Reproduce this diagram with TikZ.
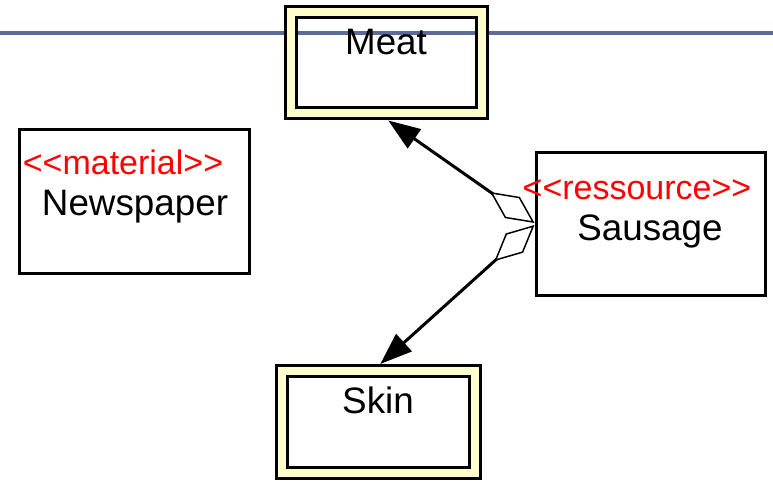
\documentclass[tikz,border=0pt]{standalone}
\usepackage{fontspec}
\setmainfont{Liberation Sans}
\usetikzlibrary{arrows.meta}
\definecolor{rulebar}{RGB}{94,106,156}
\definecolor{partfill}{RGB}{255,255,204}
\definecolor{stereored}{RGB}{255,0,0}

\begin{document}
\begin{tikzpicture}[x=1pt, y=-1pt,
    cls/.style={draw, line width=3pt, inner sep=0pt},
    part/.style={draw, line width=3pt, double=partfill, double distance=8pt, inner sep=0pt, outer sep=7pt},
    clsname/.style={anchor=base, inner sep=0pt, font=\fontsize{36.8}{44}\selectfont},
    stereo/.style={anchor=base, inner sep=0pt, text=stereored, font=\fontsize{34}{40}\selectfont},
    assoc/.style={line width=3pt, {Diamond[open, length=54pt, width=26pt, line width=1.5pt]}-{Triangle[length=32pt, width=23pt]}}]
    \useasboundingbox (0,0) rectangle (773,481);
    \draw[rulebar, line width=3.5pt] (0,33) -- (773,33);

    % classes
    \node[part, minimum width=191.5pt, minimum height=101pt] (meat) at (386.25,63) {};
    \node[part, minimum width=193.5pt, minimum height=102pt] (skin) at (378.25,422) {};
    \node[cls, minimum width=229pt, minimum height=142pt] (sausage) at (650.5,224) {};
    \node[cls, minimum width=230pt, minimum height=143pt] (newspaper) at (134,201.5) {};

    \node[clsname] (meatname) at (386,55) {Meat};
    \node[clsname] (skinname) at (378,413) {Skin};
    \node[stereo] (sausagest) at (637,200) {<{}<ressource>{}>};
    \node[clsname] (sausagename) at (650,240) {Sausage};
    \node[stereo] (newspaperst) at (123,175) {<{}<material>{}>};
    \node[clsname] (newspapername) at (135,215) {Newspaper};

    % composition
    \draw[assoc] ([yshift=1pt]sausage.west) -- ([xshift=2pt]meat.south);
    \draw[assoc] ([yshift=-1pt]sausage.west) -- ([xshift=2pt]skin.north);
\end{tikzpicture}
\end{document}
